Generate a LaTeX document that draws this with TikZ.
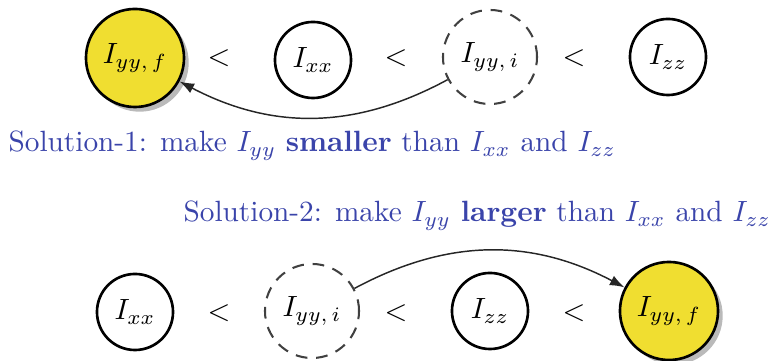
\documentclass[tikz,border=0pt]{standalone}
\usetikzlibrary{arrows.meta,shadows}
\definecolor{soltext}{RGB}{58,68,170}
\definecolor{solyellow}{RGB}{240,222,48}
\begin{document}
\begin{tikzpicture}[x=0.012cm,y=-0.012cm,
  plain/.style={circle,draw=black,line width=0.9pt,minimum size=0.912cm,inner sep=0pt},
  initial/.style={circle,draw=black!75,dash pattern=on 4pt off 3pt,line width=0.7pt,minimum size=1.128cm,inner sep=0pt},
  final/.style={circle,draw=black,line width=0.9pt,fill=solyellow,minimum size=1.176cm,inner sep=0pt,
     drop shadow={shadow xshift=1.6pt,shadow yshift=-1.6pt,fill=black!45,opacity=0.6}},
  lt/.style={inner sep=0pt},
  move/.style={-{Latex[length=5pt,width=3.6pt]},line width=0.5pt,black!85},
  sol/.style={text=soltext,inner sep=0pt,anchor=base west}]
\useasboundingbox (0,0) rectangle (779,361);
% top row
\node[final] (yf1) at (135,58) {$I_{yy,\,f}$};
\node[lt] (l1) at (219,58) {$<$};
\node[plain] (ixx1) at (313,60) {$I_{xx}$};
\node[lt] (l2) at (396,58) {$<$};
\node[initial] (yi1) at (490,57) {$I_{yy,\,i}$};
\node[lt] (l3) at (574,58) {$<$};
\node[plain] (izz1) at (668,57) {$I_{zz}$};
\draw[move] (yi1) to[bend left=28] (yf1);
\node[sol] (s1) at (8,152) {Solution-1: make $I_{yy}$ \textbf{smaller} than $I_{xx}$ and $I_{zz}$};
% bottom row
\node[sol] (s2) at (183,222) {Solution-2: make $I_{yy}$ \textbf{larger} than $I_{xx}$ and $I_{zz}$};
\node[plain] (ixx2) at (135,312) {$I_{xx}$};
\node[lt] (l4) at (219,313) {$<$};
\node[initial] (yi2) at (312,311) {$I_{yy,\,i}$};
\node[lt] (l5) at (396,313) {$<$};
\node[plain] (izz2) at (490,311) {$I_{zz}$};
\node[lt] (l6) at (574,313) {$<$};
\node[final] (yf2) at (669,311) {$I_{yy,\,f}$};
\draw[move] (yi2) to[bend left=28] (yf2);
\end{tikzpicture}
\end{document}
